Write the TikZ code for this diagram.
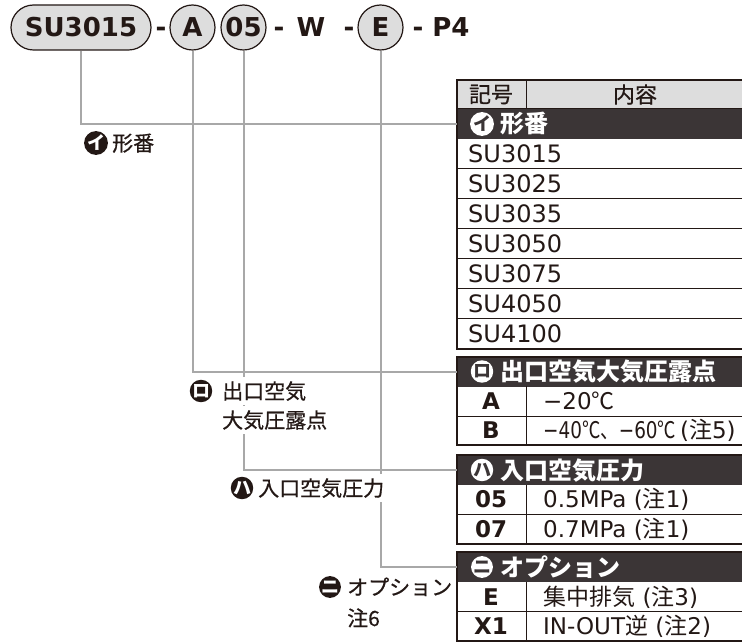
\documentclass[tikz,border=0pt]{standalone}
\usepackage{fontspec}
\setmainfont{DejaVu Sans}
\newfontfamily\jp{Noto Sans CJK JP}
\newfontfamily\jpm{Noto Sans CJK JP}[FakeBold=0.6]
\definecolor{dk}{HTML}{3B3536}
\definecolor{lg}{HTML}{DDDDDD}
\definecolor{ln}{HTML}{A8A8A8}
\definecolor{tx}{HTML}{231815}
\newcommand\fs[1]{\fontsize{#1}{#1}\selectfont}
\tikzset{
 conn/.style={draw=ln, line width=2pt},
 keybig/.style={draw=tx, line width=1.2pt, fill=lg, inner sep=0, font=\fs{26}\bfseries, text=tx},
 pill/.style={keybig, rounded corners=22.5pt, minimum width=140pt, minimum height=45pt},
 circ/.style={keybig, circle, minimum size=45pt},
 topt/.style={inner sep=0, anchor=base, font=\fs{26}\bfseries, text=tx},
 darkrow/.style={fill=dk, minimum width=288pt, minimum height=30pt, inner sep=0, anchor=north west},
 bicon/.style={circle, fill=tx, text=white, minimum size=21pt, inner sep=0, font=\jp\fs{18}\bfseries},
 wicon/.style={circle, fill=white, text=dk, minimum size=21pt, inner sep=0, font=\jp\fs{18}\bfseries},
 lbl/.style={anchor=base west, yshift=-8pt, inner sep=4pt, fill=white, text=tx, font=\jpm\fs{21}},
 htxt/.style={anchor=base west, yshift=-9pt, inner sep=0, text=white, font=\jp\fs{24}\bfseries},
 cell/.style={anchor=base west, yshift=-8.4pt, inner sep=0, text=tx, font=\fs{23}},
 sutxt/.style={anchor=base west, yshift=-8.8pt, inner sep=0, text=tx, font=\fs{24}},
 code/.style={anchor=base, yshift=-8.4pt, inner sep=0, text=tx, font=\fs{23}\bfseries},
 hd/.style={inner sep=0, text=tx, font=\jpm\fs{22}},
 outer/.style={draw=tx, line width=2pt},
 thin/.style={draw=tx, line width=1pt},
}
\begin{document}
\begin{tikzpicture}[x=1pt,y=-1pt]
\useasboundingbox (0,0) rectangle (742,644);

% ---------- table section 1 ----------
\fill[lg] (457,80) rectangle (745,109);
\node[darkrow] (h1) at (457,109) {};
\foreach \yy in {169,199,...,319} \draw[thin] (457,\yy) -- (745,\yy);
\draw[thin] (526,80) -- (526,109);
\draw[thin] (457,109) -- (745,109);
\draw[outer] (457,80) rectangle (745,349);
\node[hd] (k1) at (491,94.5) {記号};
\node[hd] (k2) at (635,94.5) {内容};
\node[wicon] (t1) at (482,124) {イ};
\node[htxt] (t1t) at (500,124) {形番};
\node[sutxt] (s1) at (468,154) {SU3015};
\node[sutxt] (s2) at (468,184) {SU3025};
\node[sutxt] (s3) at (468,214) {SU3035};
\node[sutxt] (s4) at (468,244) {SU3050};
\node[sutxt] (s5) at (468,274) {SU3075};
\node[sutxt] (s6) at (468,304) {SU4050};
\node[sutxt] (s7) at (468,334) {SU4100};

% ---------- section 2 ----------
\node[darkrow] (h2) at (457,357) {};
\draw[thin] (457,416) -- (745,416);
\draw[thin] (526,386) -- (526,445);
\draw[outer] (457,357) rectangle (745,445);
\node[wicon] (t2) at (482,371.5) {ロ};
\node[htxt] (t2t) at (500,371.5) {出口空気大気圧露点};
\node[code] (a1) at (491,401) {A};
\node[cell] (a2) at (543,401) {−20{\jp ℃}};
\node[code] (b1) at (491,430.5) {B};
\node[cell] (b2) at (543,430.5) {\scalebox{0.8}[1]{−40{\jp ℃、}−60{\jp ℃}}\hspace{4pt}({\jp 注}5)};

% ---------- section 3 ----------
\node[darkrow] (h3) at (457,455) {};
\draw[thin] (457,514.5) -- (745,514.5);
\draw[thin] (526,485) -- (526,544);
\draw[outer] (457,455) rectangle (745,544);
\node[wicon] (t3) at (482,470) {ハ};
\node[htxt] (t3t) at (500,470) {入口空気圧力};
\node[code] (p1) at (491,499.5) {05};
\node[cell] (p2) at (543,499.5) {0.5MPa ({\jp 注}1)};
\node[code] (q1) at (491,529) {07};
\node[cell] (q2) at (543,529) {0.7MPa ({\jp 注}1)};

% ---------- section 4 ----------
\node[darkrow] (h4) at (457,552) {};
\draw[thin] (457,611.5) -- (745,611.5);
\draw[thin] (526,582) -- (526,641);
\draw[outer] (457,552) rectangle (745,641);
\node[wicon] (t4) at (482,567) {ニ};
\node[htxt] (t4t) at (500,567) {オプション};
\node[code] (e1) at (491,597) {E};
\node[cell] (e2) at (543,597) {{\jp 集中排気} ({\jp 注}3)};
\node[code] (x1) at (491,626.5) {X1};
\node[cell] (x2) at (543,626.5) {IN-OUT{\jp 逆} ({\jp 注}2)};

% ---------- top code ----------
\node[pill] (su) at (81,27.5) {SU3015};
\node[circ] (ca) at (192.5,27.5) {A};
\node[circ] (c05) at (243.5,27.5) {05};
\node[circ] (ce) at (380.5,27.5) {E};
\node[topt] (d1) at (161,37) {-};
\node[topt] (d2) at (279,37) {-};
\node[topt] (w) at (311,37) {W};
\node[topt] (d3) at (349,37) {-};
\node[topt] (d4) at (418,37) {-};
\node[topt] (pp) at (451,37) {P4};

% ---------- connectors ----------
\draw[conn] (su.south) |- (h1.west);
\draw[conn] (ca.south) |- (h2.west);
\draw[conn] (c05.south) |- (h3.west);
\draw[conn] (ce.south) |- (h4.west);

% ---------- left labels ----------
\node[bicon] (l1) at (96,143) {イ};
\node[lbl] (l1t) at (108,143) {形番};
\node[bicon] (l2) at (201,391) {ロ};
\node[lbl] (l2t) at (218,391) {出口空気};
\node[lbl] (l2u) at (218,420) {大気圧露点};
\node[bicon] (l3) at (242,488) {ハ};
\node[lbl] (l3t) at (254,488) {入口空気圧力};
\node[bicon] (l4) at (330,587) {ニ};
\node[lbl] (l4t) at (343,587) {オプション};
\node[lbl] (l4u) at (343,618) {注6};
\end{tikzpicture}
\end{document}
